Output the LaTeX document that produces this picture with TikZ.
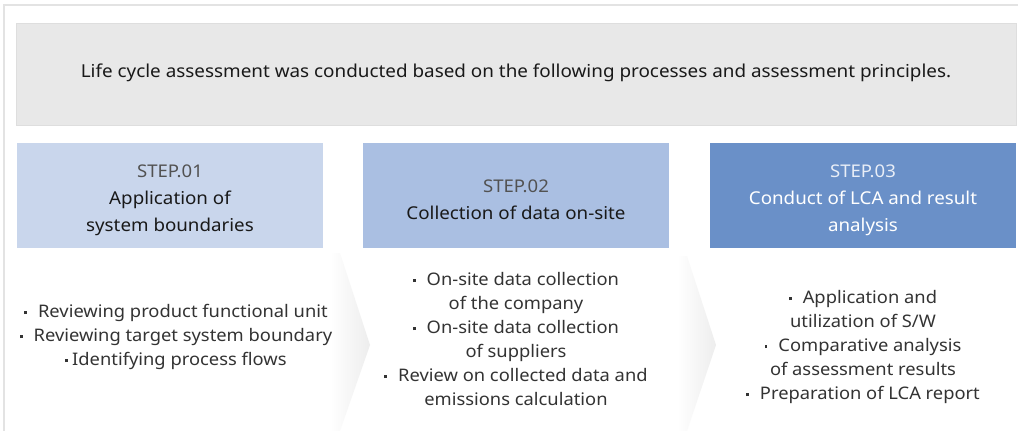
\documentclass[tikz,border=0pt]{standalone}
\usepackage{fontspec}
\setmainfont{Noto Sans}[FakeStretch=1.06]
\newcommand{\steplbl}{\fontsize{17.5}{28}\selectfont}
\newcommand{\bul}{\raisebox{3.4pt}{\rule{2.8pt}{2.8pt}}\hspace{11pt}}
\newcommand{\bulnarrow}{\raisebox{3.4pt}{\rule{2.8pt}{2.8pt}}\hspace{4pt}}
\begin{document}
\begin{tikzpicture}[x=1pt,y=-1pt,
  frameline/.style={draw=black!11,line width=1.5pt},
  headbox/.style={draw=black!13,fill=black!9,line width=0.8pt},
  stepbox/.style={draw=none,inner sep=0pt,align=center,font=\fontsize{17.7}{27}\selectfont},
  bullettext/.style={align=center,inner sep=0pt,text=black!80,font=\fontsize{17.3}{24}\selectfont},
  chev/.style={left color=white,right color=black!7,draw=none}
]
\definecolor{sa}{HTML}{C9D6EC}
\definecolor{sb}{HTML}{AABFE2}
\definecolor{sc}{HTML}{6A90C8}
\useasboundingbox (0,0) rectangle (1018,431);
\fill[white] (0,0) rectangle (1018,431);
% outer frame
\draw[frameline] (4,431) -- (4,5) -- (1018,5);
% header
\draw[headbox] (16,23) rectangle (1016,125);
\node[font=\fontsize{17.8}{20}\selectfont,text=black!90] (header) at (516,73) {Life cycle assessment was conducted based on the following processes and assessment principles.};
% chevrons
\shade[chev] (330,253) -- (340,253) -- (370,345) -- (340,431) -- (330,431) -- cycle;
\shade[chev] (677,256) -- (687,256) -- (716,345) -- (687,431) -- (677,431) -- cycle;
% step boxes
\fill[sa] (17,143) rectangle (323,248);
\fill[sb] (363,143) rectangle (669,248);
\fill[sc] (710,143) rectangle (1016,248);
\node[stepbox,text=black!90] (s1) at (170,200) {{\steplbl\color{black!68}STEP.01}\\Application of\\system boundaries};
\node[stepbox,text=black!90] (s2) at (516,200) {{\steplbl\color{black!68}STEP.02}\\Collection of data on-site};
\node[stepbox,text=white] (s3) at (863,200) {{\steplbl\color{white!85!sc}STEP.03}\\Conduct of LCA and result\\analysis};
% bullets
\node[bullettext] (b1) at (176,337) {\bul Reviewing product functional unit\\\bul Reviewing target system boundary\\\bulnarrow Identifying process flows};
\node[bullettext] (b2) at (516,339) {\bul On-site data collection\\of the company\\\bul On-site data collection\\of suppliers\\\bul Review on collected data and\\emissions calculation};
\node[bullettext] (b3) at (863,347) {\bul Application and\\utilization of S/W\\\bul Comparative analysis\\of assessment results\\\bul Preparation of LCA report};
\end{tikzpicture}
\end{document}
